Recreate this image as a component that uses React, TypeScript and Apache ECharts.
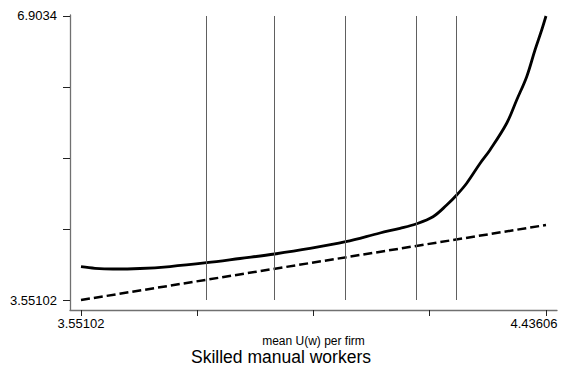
import React, { useEffect, useRef } from "react";
import * as echarts from "echarts";

// Estimated values
const curveX = [
  3.55102, 3.57767, 3.61193, 3.66331, 3.72041, 3.79027, 3.85364, 3.91969, 3.98688,
  4.05483, 4.12011, 4.15817, 4.18863, 4.22098, 4.24706, 4.26609, 4.28512, 4.31044,
  4.32947, 4.36126, 4.38029, 4.39932, 4.41512, 4.42787, 4.43606,
];
const curveY = [
  3.944, 3.925, 3.917, 3.923, 3.946, 3.991, 4.041, 4.094, 4.159,
  4.239, 4.342, 4.397, 4.448, 4.534, 4.672, 4.79, 4.929, 5.162,
  5.322, 5.637, 5.912, 6.187, 6.502, 6.738, 6.9034,
];
const diagX = [3.55102, 4.43606];
const diagY = [3.55102, 4.43606];
const vlineX = [3.79027, 3.91969, 4.05483, 4.18863, 4.26609];
const vlineRange = [3.55102, 6.9034];

const xTicks = [3.55102, 3.77228, 3.99354, 4.2148, 4.43606];
const xLabelValues = [3.55102, 4.43606];
const xLabelTexts = ["3.55102", "4.43606"];
const yTicks = [3.55102, 4.389115, 5.22721, 6.065305, 6.9034];
const yLabelValues = [3.55102, 6.9034];
const yLabelTexts = ["3.55102", "6.9034"];

const xName = "mean U(w) per firm";
const titleText = "Skilled manual workers";

const FONT = "'Liberation Sans', Arial, Helvetica, sans-serif";
const LABEL_SIZE = 13;

function pickLabel(v: number, vals: number[], texts: string[]) {
  let best = 0;
  for (let i = 1; i < vals.length; i++) {
    if (Math.abs(vals[i] - v) < Math.abs(vals[best] - v)) best = i;
  }
  return texts[best];
}

export default function App() {
  const ref = useRef<HTMLDivElement>(null);
  useEffect(() => {
    if (!ref.current) return;
    const chart = echarts.init(ref.current, undefined, { renderer: "svg" });
    const curve = curveX.map((x, i) => [x, curveY[i]]);
    const diag = diagX.map((x, i) => [x, diagY[i]]);
    chart.setOption({
      animation: false,
      backgroundColor: "#ffffff",
      title: {
        text: titleText,
        left: "center",
        top: 348,
        padding: 0,
        textStyle: { fontFamily: FONT, fontSize: 17.5, fontWeight: "normal", color: "#000", lineHeight: 17.5 },
      },
      grid: { left: 70, right: 5, top: 15, bottom: 57, outerBoundsMode: "none", containLabel: false },
      xAxis: {
        type: "value",
        min: 3.53008,
        max: 4.457,
        name: xName,
        nameLocation: "middle",
        nameGap: 19,
        nameTextStyle: { fontFamily: FONT, fontSize: 12, color: "#000", lineHeight: 12 },
        axisLine: { show: true, onZero: false, lineStyle: { color: "#707070", width: 1.3 } },
        axisTick: { show: true, customValues: xTicks, length: 6, lineStyle: { color: "#222", width: 1 } },
        axisLabel: {
          show: true,
          customValues: xLabelValues,
          margin: 7,
          fontFamily: FONT,
          fontSize: LABEL_SIZE,
          color: "#000",
          formatter: (v: number) => {
            const t = pickLabel(v, xLabelValues, xLabelTexts);
            return t === xLabelTexts[xLabelTexts.length - 1] ? "{r|" + t + "}" : t;
          },
          rich: {
            r: { fontFamily: FONT, fontSize: LABEL_SIZE, color: "#000", width: 71, align: "left" },
          },
        },
        splitLine: { show: false },
      },
      yAxis: {
        type: "value",
        min: 3.43298,
        max: 6.91516,
        axisLine: { show: true, onZero: false, lineStyle: { color: "#707070", width: 1.3 } },
        axisTick: { show: true, customValues: yTicks, length: 7, lineStyle: { color: "#222", width: 1 } },
        axisLabel: {
          show: true,
          customValues: yLabelValues,
          margin: 13,
          fontFamily: FONT,
          fontSize: LABEL_SIZE,
          color: "#000",
          formatter: (v: number) => pickLabel(v, yLabelValues, yLabelTexts),
        },
        splitLine: { show: false },
      },
      series: [
        {
          type: "line",
          data: [],
          silent: true,
          markLine: {
            silent: true,
            symbol: "none",
            label: { show: false },
            lineStyle: { color: "#606060", width: 1, type: "solid" },
            data: vlineX.map((x) => [
              { coord: [x, vlineRange[0]] },
              { coord: [x, vlineRange[1]] },
            ]),
          },
        },
        {
          type: "line",
          data: diag,
          showSymbol: false,
          lineStyle: { color: "#000", width: 2.5, type: [9, 4] },
          z: 3,
        },
        {
          type: "line",
          data: curve,
          smooth: 0.35,
          showSymbol: false,
          lineStyle: { color: "#000", width: 2.8 },
          z: 4,
        },
      ],
    });
    return () => chart.dispose();
  }, []);
  return (
    <div
      ref={ref}
      style={{ position: "fixed", left: 0, top: 0, width: 562, height: 367, background: "#fff" }}
    />
  );
}
